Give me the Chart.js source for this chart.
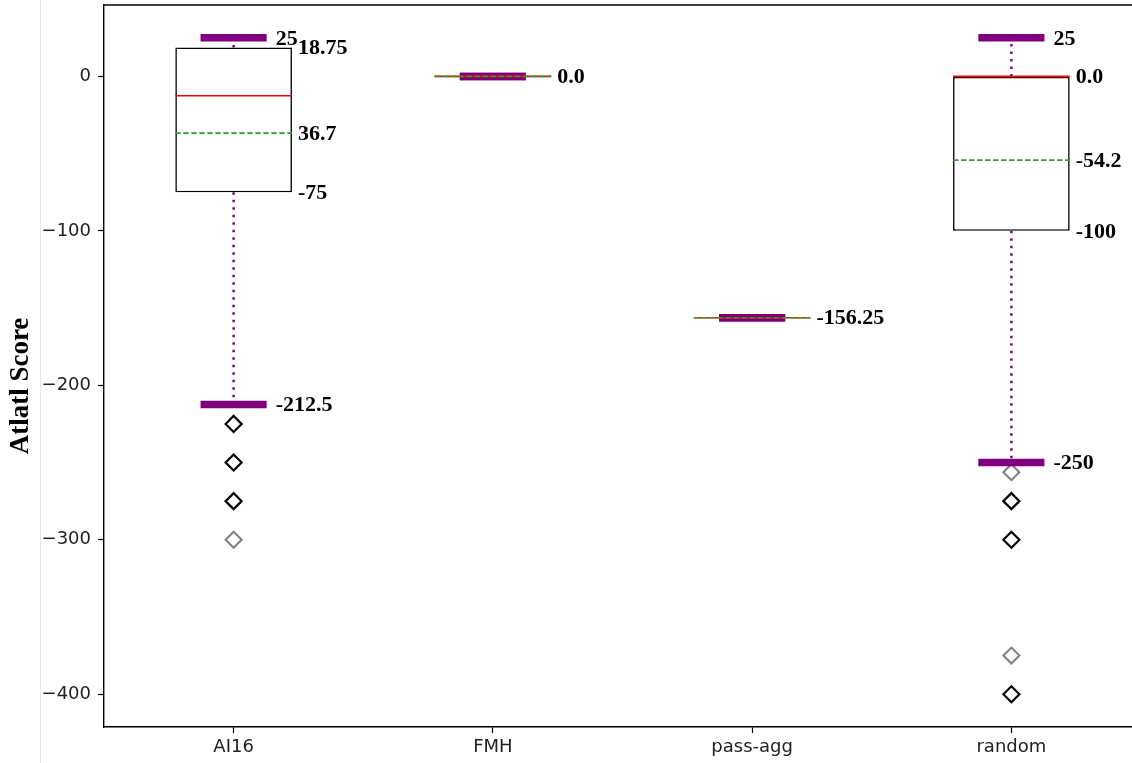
<!DOCTYPE html>
<html>
<head>
<meta charset="utf-8">
<title>Atlatl Score</title>
<script src="https://cdn.jsdelivr.net/npm/chart.js@4.4.1/dist/chart.umd.min.js"></script>
<style>
  html, body { margin: 0; padding: 0; background: #fff; overflow: hidden; width: 1132px; height: 763px; }
  #wrap { width: 1132px; height: 763px; overflow: hidden; position: relative; }
  #chart { position: absolute; left: 0; top: 0; }
</style>
</head>
<body>
<div id="wrap"><canvas id="chart" width="1141" height="763"></canvas></div>
<script>
// Box statistics per agent
const categories = ['AI16', 'FMH', 'pass-agg', 'random'];
const whiskerTop = [25, 0, -156.25, 25];
const upperQuartile = [18.75, 0, -156.25, 0];
const medians = [-12.5, 0, -156.25, 0];
const means = [-36.7, 0, -156.25, -54.2];
const lowerQuartile = [-75, 0, -156.25, -100];
const whiskerBottom = [-212.5, 0, -156.25, -250];
// Outliers seen several times (dark) and only once (faint)
const repeatedOutliers = [[-225, -250, -275], [], [], [-275, -300, -400]];
const singleOutliers = [[-300], [], [], [-256.25, -375]];
const yTicks = [0, -100, -200, -300, -400];

// Value annotations: category index, value, text, what it sits next to
const noteCategory = [0, 0, 0, 0, 0, 1, 2, 3, 3, 3, 3, 3];
const noteValue = [25, 18.75, -36.7, -75, -212.5, 0, -156.25, 25, 0, -54.2, -100, -250];
const noteText = ['25', '18.75', '36.7', '-75', '-212.5', '0.0', '-156.25', '25', '0.0', '-54.2', '-100', '-250'];
const noteAnchor = ['cap', 'box', 'box', 'box', 'cap', 'box', 'box', 'cap', 'box', 'box', 'box', 'cap'];

const PURPLE = '#800080';
const BOX_FRACTION = 0.45;
const CAP_FRACTION = 0.255;

// y limits with a 5% margin around the data, like a default pyplot axis
const allValues = whiskerTop.concat(whiskerBottom, repeatedOutliers.flat(), singleOutliers.flat());
const dataMin = Math.min(...allValues), dataMax = Math.max(...allValues);
const pad = (dataMax - dataMin) * 0.05;

const toPoints = lists => lists.flatMap((vals, i) => vals.map(v => ({ x: categories[i], y: v })));

// keep the plot area flush with the layout box
const noScalePadding = s => { s.paddingTop = 0; s.paddingBottom = 0; s.paddingLeft = 0; s.paddingRight = 0; };

const dividerLine = {
  id: 'dividerLine',
  beforeDraw(chart) {
    const ctx = chart.ctx;
    ctx.save();
    ctx.strokeStyle = '#e6e6e6';
    ctx.lineWidth = 1;
    ctx.beginPath();
    ctx.moveTo(40.5, 0);
    ctx.lineTo(40.5, chart.height);
    ctx.stroke();
    ctx.restore();
  }
};

const boxParts = {
  id: 'boxParts',
  afterDatasetsDraw(chart) {
    const ctx = chart.ctx;
    const ys = chart.scales.y;
    const bars = chart.getDatasetMeta(0).data;
    const seg = (x1, y1, x2, y2) => { ctx.beginPath(); ctx.moveTo(x1, y1); ctx.lineTo(x2, y2); ctx.stroke(); };
    ctx.save();
    categories.forEach((c, i) => {
      const cx = bars[i].x;
      const half = bars[i].width / 2;
      const capHalf = half * CAP_FRACTION / BOX_FRACTION;
      const yTop = ys.getPixelForValue(whiskerTop[i]);
      const yQ3 = ys.getPixelForValue(upperQuartile[i]);
      const yQ1 = ys.getPixelForValue(lowerQuartile[i]);
      const yBot = ys.getPixelForValue(whiskerBottom[i]);
      const yMed = ys.getPixelForValue(medians[i]);
      const yMean = ys.getPixelForValue(means[i]);

      // dotted whiskers
      ctx.strokeStyle = PURPLE;
      ctx.lineCap = 'butt';
      ctx.lineWidth = 2.5;
      ctx.setLineDash([2.5, 5]);
      if (yQ3 - yTop > 0.5) seg(cx, yQ3, cx, yTop);
      if (yBot - yQ1 > 0.5) seg(cx, yQ1, cx, yBot);

      // thick caps
      ctx.setLineDash([]);
      ctx.lineWidth = 7.5;
      seg(cx - capHalf, yTop, cx + capHalf, yTop);
      seg(cx - capHalf, yBot, cx + capHalf, yBot);

      // median
      ctx.strokeStyle = '#ff0000';
      ctx.lineWidth = 1.7;
      seg(cx - half, yMed, cx + half, yMed);

      // mean
      ctx.strokeStyle = '#2ca02c';
      ctx.setLineDash([5.5, 2.5]);
      seg(cx - half, yMean, cx + half, yMean);
      ctx.setLineDash([]);
    });

    // value annotations
    ctx.fillStyle = '#000';
    ctx.font = 'bold 22px "Liberation Serif", "Times New Roman", serif';
    ctx.textAlign = 'left';
    ctx.textBaseline = 'middle';
    noteText.forEach((t, k) => {
      const bar = bars[noteCategory[k]];
      const half = bar.width / 2;
      const edge = noteAnchor[k] === 'cap' ? half * CAP_FRACTION / BOX_FRACTION + 9 : half + 6;
      ctx.fillText(t, bar.x + edge, ys.getPixelForValue(noteValue[k]) + 1);
    });

    // top frame line
    const a = chart.chartArea;
    ctx.strokeStyle = '#000';
    ctx.lineWidth = 1.4;
    seg(a.left, a.top, a.right, a.top);
    ctx.restore();
  }
};

const yTitle = {
  id: 'yTitle',
  afterDraw(chart) {
    const ctx = chart.ctx;
    const a = chart.chartArea;
    ctx.save();
    ctx.translate(21, (a.top + a.bottom) / 2 + 20);
    ctx.rotate(-Math.PI / 2);
    ctx.fillStyle = '#000';
    ctx.font = 'bold 27px "Liberation Serif", "Times New Roman", serif';
    ctx.textAlign = 'center';
    ctx.textBaseline = 'middle';
    ctx.fillText('Atlatl Score', 0, 0);
    ctx.restore();
  }
};

const tickFont = { family: 'DejaVu Sans', size: 18 };

new Chart(document.getElementById('chart'), {
  type: 'bar',
  data: {
    labels: categories,
    datasets: [
      {
        label: 'box',
        data: lowerQuartile.map((v, i) => [v, upperQuartile[i]]),
        backgroundColor: '#ffffff',
        borderColor: '#000000',
        borderWidth: 1.6,
        borderSkipped: false,
        barPercentage: BOX_FRACTION,
        categoryPercentage: 1.0,
        order: 2
      },
      {
        type: 'line',
        label: 'outliers',
        data: toPoints(singleOutliers),
        showLine: false,
        pointStyle: 'rectRot',
        pointRadius: 8,
        pointBorderWidth: 2,
        pointBackgroundColor: '#ffffff',
        pointBorderColor: 'rgba(0,0,0,0.5)',
        order: 1
      },
      {
        type: 'line',
        label: 'repeated outliers',
        data: toPoints(repeatedOutliers),
        showLine: false,
        pointStyle: 'rectRot',
        pointRadius: 8,
        pointBorderWidth: 2.2,
        pointBackgroundColor: '#ffffff',
        pointBorderColor: '#000000',
        order: 0
      }
    ]
  },
  options: {
    responsive: false,
    animation: false,
    devicePixelRatio: 1,
    events: [],
    layout: { autoPadding: false, padding: { top: 5, left: 0, right: 0, bottom: 0 } },
    plugins: { legend: { display: false }, tooltip: { enabled: false } },
    scales: {
      x: {
        type: 'category',
        offset: true,
        grid: { display: true, offset: false, drawOnChartArea: false, drawTicks: true, tickLength: 6, tickColor: '#000', tickWidth: 1.2 },
        border: { display: true, color: '#000', width: 1.4 },
        ticks: { color: '#222', font: tickFont, padding: 4, maxRotation: 0, autoSkip: false },
        afterFit(s) { s.height = 36; noScalePadding(s); }
      },
      y: {
        type: 'linear',
        min: dataMin - pad,
        max: dataMax + pad,
        afterBuildTicks(s) { s.ticks = yTicks.map(v => ({ value: v })); },
        grid: { display: true, drawOnChartArea: false, drawTicks: true, tickLength: 6, tickColor: '#000', tickWidth: 1.2 },
        border: { display: true, color: '#000', width: 1.4 },
        ticks: { color: '#222', font: tickFont, padding: 7, callback: v => String(v).replace('-', '\u2212') },
        afterFit(s) { s.width = 104; noScalePadding(s); }
      }
    }
  },
  plugins: [dividerLine, boxParts, yTitle]
});
</script>
</body>
</html>
